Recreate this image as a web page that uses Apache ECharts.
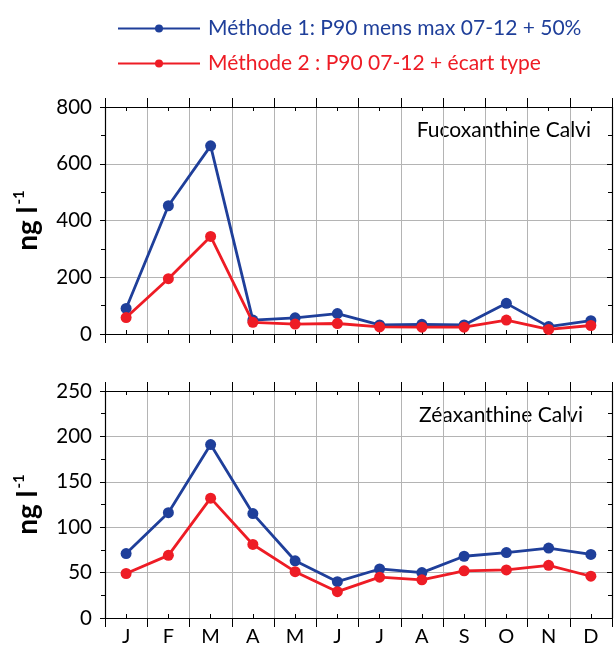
<!DOCTYPE html>
<html style="height: 100%">
<head>
<meta charset="utf-8">
<script src="https://cdn.jsdelivr.net/npm/echarts@6/dist/echarts.min.js"></script>
</head>
<body style="height: 100%; margin: 0; background: #fff">
<div id="container" style="width: 615px; height: 651px"></div>
<script type="text/javascript">
var months = ['J', 'F', 'M', 'A', 'M', 'J', 'J', 'A', 'S', 'O', 'N', 'D'];
var seriesNames = ['Méthode 1: P90 mens max 07-12 + 50%', 'Méthode 2 : P90 07-12 + écart type'];
var fucoM1 = [90, 452, 663, 49, 57, 72, 32, 34, 32, 108, 26, 47];
var fucoM2 = [58, 195, 344, 41, 35, 37, 25, 24, 24, 49, 16, 30];
var zeaM1 = [71, 116, 191, 115, 63, 40, 54, 50, 68, 72, 77, 70];
var zeaM2 = [49, 69, 132, 81, 51, 29, 45, 42, 52, 53, 58, 46];

var blue = '#1f3f9a';
var red = '#ee1c25';
var font = 'Lato';

var dom = document.getElementById('container');
var myChart = echarts.init(dom);

function xAxes(gi, showLabels) {
    var base = {
        type: 'category', gridIndex: gi, data: months, boundaryGap: true,
        axisLabel: {show: false}, axisLine: {show: false}, axisTick: {show: false}, splitLine: {show: false}
    };
    return [
        // boundaries: grid lines, outward ticks, frame line
        Object.assign({}, base, {
            position: 'bottom',
            axisLine: {show: true, lineStyle: {color: '#000', width: 1.2}},
            axisTick: {show: true, inside: false, length: 9, lineStyle: {color: '#000'}},
            splitLine: {show: true, lineStyle: {color: '#b4b4b4', width: 1}},
            axisLabel: {show: showLabels, interval: 0, margin: 9, color: '#000', fontSize: 20, fontFamily: font}
        }),
        // month centers: inward ticks
        Object.assign({}, base, {
            position: 'bottom',
            axisTick: {show: true, inside: true, alignWithLabel: true, length: 4, lineStyle: {color: '#000'}}
        }),
        Object.assign({}, base, {
            position: 'top',
            axisLine: {show: true, lineStyle: {color: '#000', width: 1.2}},
            axisTick: {show: true, inside: false, length: 9, lineStyle: {color: '#000'}}
        }),
        Object.assign({}, base, {
            position: 'top',
            axisTick: {show: true, inside: true, alignWithLabel: true, length: 4, lineStyle: {color: '#000'}}
        })
    ];
}

function yAxes(gi, max, interval) {
    var base = {
        type: 'value', gridIndex: gi, min: 0, max: max, interval: interval,
        axisLine: {show: true, lineStyle: {color: '#000', width: 1.2}},
        axisTick: {show: true, inside: false, length: 5, lineStyle: {color: '#000'}},
        minorTick: {show: true, splitNumber: 2, length: 4, lineStyle: {color: '#000'}},
        splitLine: {show: false}
    };
    return [
        Object.assign({}, base, {
            position: 'left',
            splitLine: {show: true, lineStyle: {color: '#b4b4b4', width: 1}},
            axisLabel: {color: '#000', fontSize: 20.5, fontFamily: font, margin: 13},
            name: '{a|ng l}{b|-1}',
            nameLocation: 'middle',
            nameRotate: 90,
            nameGap: 62,
            nameTextStyle: {
                rich: {
                    a: {fontSize: 28, fontWeight: 'bold', fontFamily: font, color: '#000'},
                    b: {fontSize: 15, fontWeight: 'bold', fontFamily: font, color: '#000', verticalAlign: 'top', padding: [0, 0, 16, 2]}
                }
            }
        }),
        Object.assign({}, base, {
            position: 'right',
            axisLabel: {show: false},
            axisTick: {show: true, inside: true, length: 5, lineStyle: {color: '#000'}}
        })
    ];
}

var xs = xAxes(0, false).concat(xAxes(1, true));
var ys = yAxes(0, 800, 200).concat(yAxes(1, 250, 50));

function lineSeries(name, color, data, xi, yi) {
    return {
        name: name, type: 'line', xAxisIndex: xi, yAxisIndex: yi, data: data,
        symbol: 'circle', symbolSize: 11, z: color === red ? 4 : 3,
        lineStyle: {color: color, width: 2.8},
        itemStyle: {color: color}
    };
}

option = {
    backgroundColor: '#fff',
    animation: false,
    textStyle: {fontFamily: font},
    legend: {
        orient: 'vertical', left: 112, top: 13, itemWidth: 82, itemHeight: 10, itemGap: 14,
        data: [
            {name: seriesNames[0], textStyle: {color: blue}},
            {name: seriesNames[1], textStyle: {color: red}}
        ],
        textStyle: {fontSize: 21, fontFamily: font, padding: [0, 0, 0, 3]}
    },
    grid: [
        {left: 105, right: 3, top: 107, height: 227},
        {left: 105, right: 3, top: 391, height: 227}
    ],
    xAxis: xs,
    yAxis: ys,
    graphic: [
        {type: 'text', right: 24, top: 120, style: {text: 'Fucoxanthine Calvi', fontSize: 21, fontFamily: font, fill: '#000'}},
        {type: 'text', right: 32, top: 405, style: {text: 'Zéaxanthine Calvi', fontSize: 21, fontFamily: font, fill: '#000'}}
    ],
    series: [
        lineSeries(seriesNames[0], blue, fucoM1, 0, 0),
        lineSeries(seriesNames[1], red, fucoM2, 0, 0),
        lineSeries(seriesNames[0], blue, zeaM1, 4, 2),
        lineSeries(seriesNames[1], red, zeaM2, 4, 2)
    ]
};

myChart.setOption(option);
</script>
</body>
</html>
